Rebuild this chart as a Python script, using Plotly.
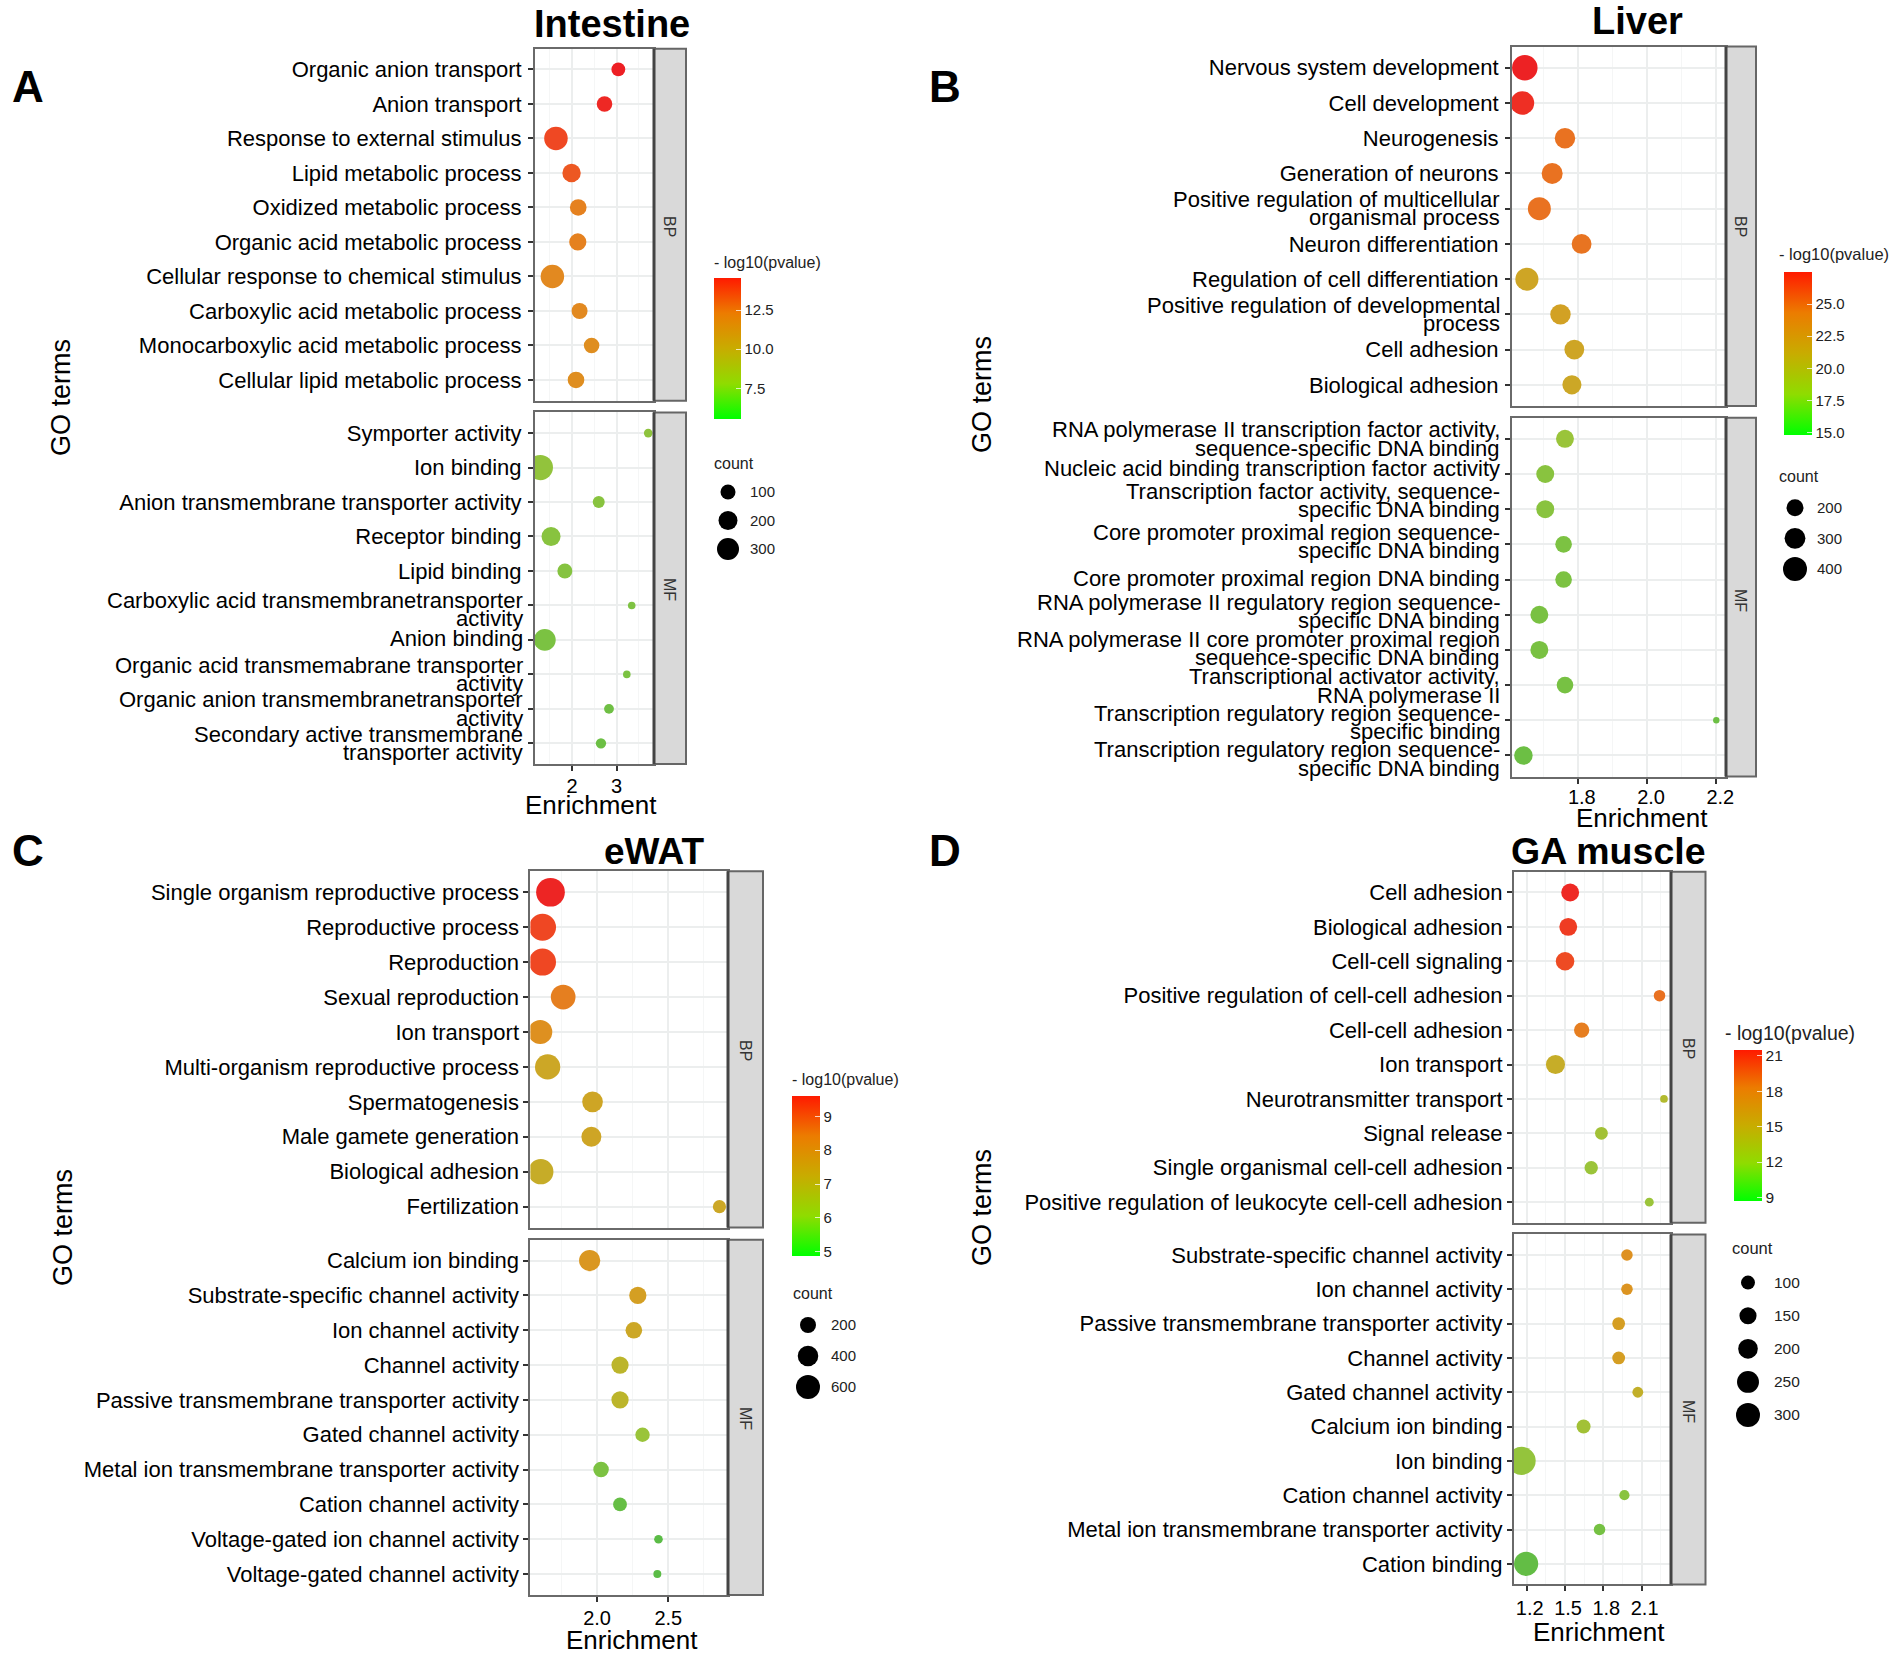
import numpy as np
import plotly.graph_objects as go

W, H = 1901, 1661
FONT = "Liberation Sans"

# ---------- Intestine ----------
intestine_bp_terms = ["Organic anion transport", "Anion transport", "Response to external stimulus", "Lipid metabolic process",
    "Oxidized metabolic process", "Organic acid metabolic process", "Cellular response to chemical stimulus",
    "Carboxylic acid metabolic process", "Monocarboxylic acid metabolic process", "Cellular lipid metabolic process"]
intestine_bp_enrichment = [3.04, 2.73, 1.64, 1.99, 2.14, 2.13, 1.56, 2.17, 2.44, 2.09]
intestine_bp_pvalue = [14.5, 14.3, 13.6, 13.2, 12.0, 12.0, 11.7, 11.7, 11.5, 11.5]
intestine_bp_count = [77, 111, 357, 184, 137, 151, 357, 122, 111, 137]
intestine_mf_terms = ["Symporter activity", "Ion binding", "Anion transmembrane transporter activity", "Receptor binding",
    "Lipid binding", "Carboxylic acid transmembranetransporter\nactivity", "Anion binding",
    "Organic acid transmemabrane transporter\nactivity", "Organic anion transmembranetransporter\nactivity",
    "Secondary active transmembrane\ntransporter activity"]
intestine_mf_enrichment = [3.71, 1.29, 2.60, 1.53, 1.84, 3.34, 1.39, 3.23, 2.83, 2.65]
intestine_mf_pvalue = [7.9, 8.0, 7.7, 7.7, 7.6, 7.4, 7.3, 7.3, 7.0, 6.9]
intestine_mf_count = [11, 430, 47, 200, 100, 5, 293, 5, 21, 26]
intestine_legend_counts = [100, 200, 300]
intestine_bar_ticks = [7.5, 10.0, 12.5]

# ---------- Liver ----------
liver_bp_terms = ["Nervous system development", "Cell development", "Neurogenesis", "Generation of neurons",
    "Positive regulation of multicellular\norganismal process", "Neuron differentiation",
    "Regulation of cell differentiation", "Positive regulation of developmental\nprocess", "Cell adhesion", "Biological adhesion"]
liver_bp_enrichment = [1.647, 1.64, 1.763, 1.726, 1.689, 1.811, 1.653, 1.75, 1.79, 1.783]
liver_bp_pvalue = [27.3, 26.9, 24.6, 24.6, 24.6, 24.5, 21.4, 21.8, 21.4, 21.2]
liver_bp_count = [452, 387, 289, 306, 367, 272, 367, 289, 272, 253]
liver_mf_terms = ["RNA polymerase II transcription factor activity,\nsequence-specific DNA binding",
    "Nucleic acid binding transcription factor activity", "Transcription factor activity, sequence-\nspecific DNA binding",
    "Core promoter proximal region sequence-\nspecific DNA binding", "Core promoter proximal region DNA binding",
    "RNA polymerase II regulatory region sequence-\nspecific DNA binding",
    "RNA polymerase II core promoter proximal region\nsequence-specific DNA binding",
    "Transcriptional activator activity,\nRNA polymerase II", "Transcription regulatory region sequence-\nspecific binding",
    "Transcription regulatory region sequence-\nspecific DNA binding"]
liver_mf_enrichment = [1.763, 1.706, 1.706, 1.759, 1.759, 1.689, 1.689, 1.763, 2.2, 1.643]
liver_mf_pvalue = [18.6, 17.85, 17.85, 17.3, 17.3, 17.2, 17.2, 17.1, 16.7, 16.7]
liver_mf_count = [223, 223, 223, 191, 191, 223, 223, 191, 28, 237]
liver_legend_counts = [200, 300, 400]
liver_bar_ticks = [15.0, 17.5, 20.0, 22.5, 25.0]

# ---------- eWAT ----------
ewat_bp_terms = ["Single organism reproductive process", "Reproductive process", "Reproduction", "Sexual reproduction",
    "Ion transport", "Multi-organism reproductive process", "Spermatogenesis", "Male gamete generation",
    "Biological adhesion", "Fertilization"]
ewat_bp_enrichment = [1.673, 1.617, 1.617, 1.762, 1.601, 1.653, 1.968, 1.96, 1.605, 2.859]
ewat_bp_pvalue = [9.5, 9.1, 9.1, 8.28, 7.95, 7.24, 7.3, 7.3, 7.1, 7.24]
ewat_bp_count = [934, 805, 805, 645, 606, 684, 408, 374, 684, 110]
ewat_mf_terms = ["Calcium ion binding", "Substrate-specific channel activity", "Ion channel activity", "Channel activity",
    "Passive transmembrane transporter activity", "Gated channel activity", "Metal ion transmembrane transporter activity",
    "Cation channel activity", "Voltage-gated ion channel activity", "Voltage-gated channel activity"]
ewat_mf_enrichment = [1.948, 2.286, 2.258, 2.161, 2.161, 2.319, 2.028, 2.161, 2.431, 2.423]
ewat_mf_pvalue = [7.8, 7.57, 7.24, 6.86, 6.86, 6.3, 5.8, 5.5, 5.35, 5.35]
ewat_mf_count = [436, 246, 223, 246, 246, 146, 182, 127, 21, 14]
ewat_legend_counts = [200, 400, 600]
ewat_bar_ticks = [5, 6, 7, 8, 9]

# ---------- GA muscle ----------
ga_bp_terms = ["Cell adhesion", "Biological adhesion", "Cell-cell signaling", "Positive regulation of cell-cell adhesion",
    "Cell-cell adhesion", "Ion transport", "Neurotransmitter transport", "Signal release",
    "Single organismal cell-cell adhesion", "Positive regulation of leukocyte cell-cell adhesion"]
ga_bp_enrichment = [1.54, 1.525, 1.5, 2.24, 1.63, 1.425, 2.275, 1.785, 1.705, 2.16]
ga_bp_pvalue = [21.1, 20.5, 20.0, 18.6, 18.0, 14.7, 13.6, 12.9, 12.6, 12.6]
ga_bp_count = [165, 165, 177, 67, 120, 189, 29, 83, 91, 39]
ga_mf_terms = ["Substrate-specific channel activity", "Ion channel activity", "Passive transmembrane transporter activity",
    "Channel activity", "Gated channel activity", "Calcium ion binding", "Ion binding", "Cation channel activity",
    "Metal ion transmembrane transporter activity", "Cation binding"]
ga_mf_enrichment = [1.985, 1.985, 1.92, 1.92, 2.07, 1.645, 1.16, 1.965, 1.77, 1.195]
ga_mf_pvalue = [17.0, 16.8, 16.1, 16.1, 14.5, 12.9, 12.3, 11.8, 11.0, 10.3]
ga_mf_count = [67, 67, 83, 83, 59, 100, 411, 52, 67, 305]
ga_legend_counts = [100, 150, 200, 250, 300]
ga_bar_ticks = [9, 12, 15, 18, 21]

BAR_SCALE = [[0, "#00FF00"], [0.25, "#8FDC00"], [0.5, "#C8AC00"], [0.75, "#EC7C00"], [1, "#FF1A00"]]
MARK_SCALE = [[0, "#39B54A"], [0.2, "#7DC242"], [0.3, "#9AC43A"], [0.4, "#B8B82C"], [0.5, "#CCA726"],
              [0.6, "#D89B22"], [0.7, "#E4851F"], [0.8, "#EB6A22"], [0.9, "#EF4523"], [1, "#ED1C24"]]

panels = [
    dict(name="Intestine", tag="A", tag_xy=(28, 86), title_xy=(612, 24), title_size=38,
         left=535, right=654, strip=686, bp=(48.7, 400.7), mf=(412.4, 764),
         xr=(1.17, 3.84), xt=[2, 3], xd=1, minor=(1.5, 1.0), xstand=-2, xshift=0,
         tick_size=22, tick_gap=10,
         bp_data=(intestine_bp_terms, intestine_bp_enrichment, intestine_bp_pvalue, intestine_bp_count),
         mf_data=(intestine_mf_terms, intestine_mf_enrichment, intestine_mf_pvalue, intestine_mf_count),
         nudges=({}, {5: 4.2, 6: -1.5}),
         size=(5.44, 0.956), legend=intestine_legend_counts, ticks=intestine_bar_ticks,
         tfmt="{:.1f}", bar=(714, 741, 277.7, 419), crange=(5.56, 14.57), prefix=4,
         cb_title_xy=(714, 262.5), cb_title_size=16, count_xy=(714, 463), dots_x=728, dots_y=(492, 549), label_dx=24,
         key_size=15, go_xy=(61, 398), enr_xy=(591, 805), enr_size=26, xt_size=20, strip_x=670, strip_y=(226, 589)),
    dict(name="Liver", tag="B", tag_xy=(945, 86), title_xy=(1637, 21), title_size=38,
         left=1512, right=1726, strip=1756, bp=(46.6, 406), mf=(417.7, 776.6),
         xr=(1.61, 2.228), xt=[1.8, 2.0, 2.2], xd=0.2, minor=(1.7, 0.2), xstand=-4, xshift=4,
         tick_size=22, tick_gap=10,
         bp_data=(liver_bp_terms, liver_bp_enrichment, liver_bp_pvalue, liver_bp_count),
         mf_data=(liver_mf_terms, liver_mf_enrichment, liver_mf_pvalue, liver_mf_count),
         nudges=({}, {1: -5.3, 2: -8.7, 3: -3, 4: -1, 5: -3.4, 6: -1.5, 7: 1, 8: 2, 9: 3.7}),
         size=(0.1, 1.195), legend=liver_legend_counts, ticks=liver_bar_ticks,
         tfmt="{:.1f}", bar=(1784, 1812, 272, 435), crange=(14.8, 27.5), prefix=4,
         cb_title_xy=(1779, 254.5), cb_title_size=16.5, count_xy=(1779, 476), dots_x=1795, dots_y=(507.7, 569), label_dx=24,
         key_size=15, go_xy=(982, 395), enr_xy=(1642, 818), enr_size=26, xt_size=20, strip_x=1741, strip_y=(226, 600)),
    dict(name="eWAT", tag="C", tag_xy=(28, 850), title_xy=(654, 851), title_size=37,
         left=530.4, right=728, strip=763, bp=(871.3, 1227.6), mf=(1239.7, 1595),
         xr=(1.532, 2.919), xt=[2.0, 2.5], xd=0.5, minor=(1.75, 0.5), xstand=-1, xshift=0,
         tick_size=22, tick_gap=8,
         bp_data=(ewat_bp_terms, ewat_bp_enrichment, ewat_bp_pvalue, ewat_bp_count),
         mf_data=(ewat_mf_terms, ewat_mf_enrichment, ewat_mf_pvalue, ewat_mf_count),
         nudges=({}, {}),
         size=(5.07, 0.773), legend=ewat_legend_counts, ticks=ewat_bar_ticks,
         tfmt="{:d}", bar=(792, 820, 1096, 1256), crange=(4.875, 9.6), prefix=5,
         cb_title_xy=(792, 1079), cb_title_size=16, count_xy=(793, 1293), dots_x=808, dots_y=(1325, 1387), label_dx=25,
         key_size=15, go_xy=(63, 1228), enr_xy=(632, 1640), enr_size=26, xt_size=20, strip_x=746, strip_y=(1050, 1418)),
    dict(name="GA muscle", tag="D", tag_xy=(945, 850), title_xy=(1608, 851), title_size=37.5,
         left=1514, right=1671, strip=1705.5, bp=(871.8, 1222.8), mf=(1234.4, 1584.4),
         xr=(1.1, 2.33), xt=[1.2, 1.5, 1.8, 2.1], xd=0.3, minor=(1.35, 0.3), xstand=0, xshift=3,
         tick_size=22, tick_gap=8,
         bp_data=(ga_bp_terms, ga_bp_enrichment, ga_bp_pvalue, ga_bp_count),
         mf_data=(ga_mf_terms, ga_mf_enrichment, ga_mf_pvalue, ga_mf_count),
         nudges=({}, {}),
         size=(0.34, 1.366), legend=ga_legend_counts, ticks=ga_bar_ticks,
         tfmt="{:d}", bar=(1733.5, 1761, 1049.7, 1200.6), crange=(8.73, 21.5), prefix=4,
         cb_title_xy=(1725, 1033), cb_title_size=19.5, count_xy=(1732, 1248), dots_x=1748, dots_y=(1282.6, 1415), label_dx=28,
         key_size=15.5, go_xy=(982, 1208), enr_xy=(1599, 1632), enr_size=26, xt_size=20, strip_x=1689, strip_y=(1048, 1411)),
]


def px(x):
    return x / W


def py(y):
    return 1 - y / H


fig = go.Figure()
layout = {}
annotations = []
shapes = []


def text(x, y, s, size, color="black", bold=False, xanchor="center", yanchor="middle", angle=0):
    annotations.append(dict(xref="paper", yref="paper", x=px(x), y=py(y), text=f"<b>{s}</b>" if bold else s,
                            showarrow=False, xanchor=xanchor, yanchor=yanchor, textangle=angle,
                            font=dict(family=FONT, size=size, color=color), borderpad=0, borderwidth=0))


for k, p in enumerate(panels):
    mark_axis = f"coloraxis{2 * k + 1}" if k else "coloraxis"
    bar_axis = f"coloraxis{2 * k + 2}"
    layout[mark_axis] = dict(colorscale=MARK_SCALE, cmin=p["crange"][0], cmax=p["crange"][1], showscale=False)
    x0, x1, y0, y1 = p["bar"]
    layout[bar_axis] = dict(colorscale=BAR_SCALE, cmin=p["crange"][0], cmax=p["crange"][1],
        colorbar=dict(x=px(x0), xanchor="left", xpad=0, ypad=0, y=py(y0), yanchor="top", lenmode="pixels", len=y1 - y0,
                      thicknessmode="pixels", thickness=x1 - x0, outlinewidth=0, borderwidth=0,
                      tickmode="array", tickvals=p["ticks"], ticktext=[p["tfmt"].format(t) for t in p["ticks"]],
                      ticks="inside", ticklen=5, tickcolor="rgba(255,255,255,0.75)", tickwidth=1,
                      tickprefix="\u00a0" * p["prefix"], tickfont=dict(family=FONT, size=p["key_size"], color="#222")))
    a, b = p["size"]

    for j, (data, (top, bot)) in enumerate([(p["bp_data"], p["bp"]), (p["mf_data"], p["mf"])]):
        i = 3 * k + j + 1
        terms, enr, pv, cnt = data
        nudge = p["nudges"][j]
        idx = list(range(len(terms)))
        fig.add_trace(go.Scatter(x=enr, y=idx, mode="markers", xaxis=f"x{i}", yaxis=f"y{i}", showlegend=False,
                                 marker=dict(color=pv, coloraxis=mark_axis, size=a + b * np.sqrt(cnt), line_width=0, opacity=1)))
        ticktext = ["" if ("\n" in t or n in nudge) else t for n, t in enumerate(terms)]
        layout[f"xaxis{i}"] = dict(domain=[px(p["left"]), px(p["right"])], range=list(p["xr"]), anchor=f"y{i}", automargin=False,
            showline=True, mirror=True, linecolor="#6a6a6a", linewidth=2, zeroline=False,
            tickmode="array", tickvals=p["xt"], ticktext=[f"{t:g}" if p["xd"] == 1 else f"{t:.1f}" for t in p["xt"]],
            showticklabels=(j == 1), ticks="outside" if j == 1 else "", ticklen=5, tickwidth=2, tickcolor="#333",
            ticklabelstandoff=p["xstand"], ticklabelshift=p["xshift"],
            tickfont=dict(family=FONT, size=p["xt_size"], color="black"),
            showgrid=True, gridcolor="#ECEEEE", gridwidth=2,
            minor=dict(showgrid=True, gridcolor="#F5F6F6", gridwidth=1, tick0=p["minor"][0], dtick=p["minor"][1], ticks=""))
        layout[f"yaxis{i}"] = dict(domain=[py(bot), py(top)], range=[len(terms) - 1 + 0.6, -0.6], anchor=f"x{i}", automargin=False,
            showline=True, mirror=True, linecolor="#6a6a6a", linewidth=2, zeroline=False,
            tickmode="array", tickvals=idx, ticktext=ticktext, ticks="outside", ticklen=5, tickwidth=2, tickcolor="#333",
            ticklabelstandoff=p["tick_gap"] - 8, tickfont=dict(family=FONT, size=p["tick_size"], color="black"),
            showgrid=True, gridcolor="#ECEEEE", gridwidth=2)
        for n, t in enumerate(terms):
            if "\n" in t or n in nudge:
                parts = t.split("\n")
                offsets = (9.25, -9.25) if len(parts) == 2 else (0,)
                for line, shift in zip(parts, offsets):
                    annotations.append(dict(xref="paper", yref=f"y{i}", x=px(p["left"] - p["tick_gap"] - 1), y=n,
                                            yshift=shift - nudge.get(n, 0),
                                            text=line, showarrow=False, xanchor="right", yanchor="middle", borderpad=0,
                                            font=dict(family=FONT, size=p["tick_size"], color="black")))
        shapes.append(dict(type="rect", xref="paper", yref="paper", layer="above",
                           x0=px(p["right"]), x1=px(p["strip"]), y0=py(bot), y1=py(top),
                           fillcolor="#D9D9D9", line=dict(color="#666666", width=2)))
        shapes.append(dict(type="line", xref="paper", yref="paper", layer="above",
                           x0=px(p["right"]), x1=px(p["right"]), y0=py(bot), y1=py(top), line=dict(color="#444444", width=3)))

    # size key, on its own hidden axes
    i = 3 * k + 3
    cts = p["legend"]
    n = len(cts)
    ya, yb = p["dots_y"]
    step = (yb - ya) / (n - 1)
    half = p["label_dx"] - 3
    fig.add_trace(go.Scatter(x=[0] * n, y=list(range(n)), mode="markers", xaxis=f"x{i}", yaxis=f"y{i}", showlegend=False,
                             cliponaxis=False, marker=dict(color="black", size=a + b * np.sqrt(cts), line_width=0, opacity=1)))
    fig.add_trace(go.Scatter(x=[0, 0], y=[0, 0], mode="markers", xaxis=f"x{i}", yaxis=f"y{i}", showlegend=False,
                             hoverinfo="skip", marker=dict(color=list(p["crange"]), coloraxis=bar_axis, size=1, opacity=0)))
    layout[f"xaxis{i}"] = dict(domain=[px(p["dots_x"] - half), px(p["dots_x"] + half)], range=[-1, 1], anchor=f"y{i}",
                               visible=False, fixedrange=True, automargin=False)
    layout[f"yaxis{i}"] = dict(domain=[py(yb + step / 2), py(ya - step / 2)], range=[n - 0.5, -0.5], anchor=f"x{i}", side="right",
                               showline=False, showgrid=False, zeroline=False, ticks="", tickmode="array", automargin=False,
                               tickvals=list(range(n)), ticktext=[str(c) for c in cts],
                               tickfont=dict(family=FONT, size=p["key_size"], color="#222"))

    text(*p["tag_xy"], p["tag"], 44, bold=True)
    text(*p["title_xy"], p["name"], p["title_size"], bold=True)
    text(*p["cb_title_xy"], "- log10(pvalue)", p["cb_title_size"], color="#222", xanchor="left")
    text(*p["count_xy"], "count", p["key_size"] + 1, color="#222", xanchor="left")
    text(*p["go_xy"], "GO terms", 27, angle=-90)
    text(*p["enr_xy"], "Enrichment", p["enr_size"])
    text(p["strip_x"], p["strip_y"][0], "BP", 16, color="#333", angle=90)
    text(p["strip_x"], p["strip_y"][1], "MF", 16, color="#333", angle=90)

fig.update_layout(template="none", width=W, height=H, autosize=False, margin=dict(l=0, r=0, t=0, b=0, pad=0),
                  paper_bgcolor="white", plot_bgcolor="white", showlegend=False,
                  font=dict(family=FONT), annotations=annotations, shapes=shapes, **layout)
fig.write_html("out.html", config={"displayModeBar": False},
               post_script="document.body.style.margin='0';window.dispatchEvent(new Event('resize'));")
